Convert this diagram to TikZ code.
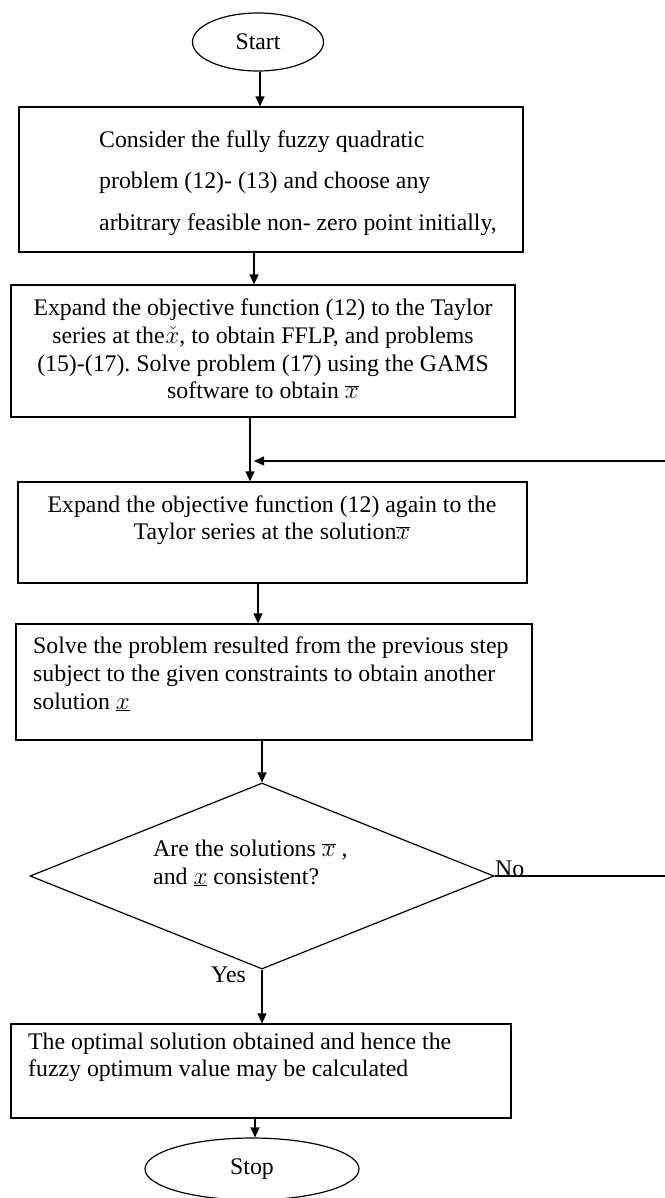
\documentclass[tikz,border=0pt]{standalone}
\usepackage{fontspec}
\setmainfont{Liberation Serif}
\usetikzlibrary{arrows.meta,shapes.geometric,calc}
\frenchspacing
\begin{document}
\begin{tikzpicture}[x=1pt,y=-1pt,
  box/.style={draw, line width=1.2pt, rectangle, inner sep=0pt},
  term/.style={draw, line width=1.2pt, ellipse, inner sep=0pt, font=\fontsize{23.8}{27.5}\selectfont},
  txt/.style={inner sep=0pt, font=\fontsize{23.8}{27.5}\selectfont},
  arr/.style={line width=1.3pt, -{Triangle[length=10pt,width=9pt]}},
  ln/.style={line width=1.3pt}]
\useasboundingbox (0,0) rectangle (664,1198);
\fill[white] (0,0) rectangle (664,1198);

% shapes
\node[term, minimum width=131pt, minimum height=58pt] (start) at (258,42) {Start};
\node[box, minimum width=504pt, minimum height=145pt] (b1) at (271,179.5) {};
\node[box, minimum width=504pt, minimum height=132pt] (b2) at (263,351) {};
\node[box, minimum width=509pt, minimum height=101pt] (b3) at (272.5,532.5) {};
\node[box, minimum width=516pt, minimum height=116pt] (b4) at (274,682) {};
\node[draw, line width=1.2pt, diamond, inner sep=0pt, minimum width=464pt, minimum height=186pt] (dec) at (262,876) {};
\node[box, minimum width=500pt, minimum height=94pt] (b5) at (261,1071) {};
\node[term, minimum width=214pt, minimum height=62pt] (stop) at (252,1169) {Stop};

% texts
\node[txt, anchor=base west] (t1a) at (99,148) {Consider the fully fuzzy quadratic};
\node[txt, anchor=base west] (t1b) at (99,189) {problem (12)- (13) and choose any};
\node[txt, anchor=base west] (t1c) at (99,230) {arbitrary feasible non- zero point initially,};

\node[txt, anchor=base] (t2a) at (263,315) {Expand the objective function (12) to the Taylor};
\node[txt, anchor=base] (t2b) at (263,343) {series at the\kern1pt$\check{x}$, to obtain FFLP, and problems};
\node[txt, anchor=base] (t2c) at (263,371) {(15)-(17). Solve problem (17) using the GAMS};
\node[txt, anchor=base] (t2d) at (263,398) {software to obtain $\overline{x}$};

\node[txt, anchor=base] (t3a) at (272,512) {Expand the objective function (12) again to the};
\node[txt, anchor=base] (t3b) at (272,539) {Taylor series at the solution$\overline{x}$};

\node[txt, anchor=base west] (t4a) at (33,653) {Solve the problem resulted from the previous step};
\node[txt, anchor=base west] (t4b) at (33,681) {subject to the given constraints to obtain another};
\node[txt, anchor=base west] (t4c) at (33,709) {solution $\underline{x}$};

\node[txt, anchor=base west] (tda) at (153,856) {Are the solutions $\overline{x}$ ,};
\node[txt, anchor=base west] (tdb) at (153,884) {and $\underline{x}$ consistent?};

\node[txt, anchor=base west] (no) at (495,876) {No};
\node[txt, anchor=base west] (yes) at (211,982) {Yes};

\node[txt, anchor=base west] (t5a) at (28,1049) {The optimal solution obtained and hence the};
\node[txt, anchor=base west] (t5b) at (28,1076) {fuzzy optimum value may be calculated};

% connector x positions
\coordinate (a0) at (260,0);
\coordinate (a1) at (254,0);
\coordinate (a2) at (250,0);
\coordinate (a3) at (258,0);
\coordinate (a6) at (255,0);
\coordinate (edge) at (668,0);
\coordinate (fbtip) at (254,461);

% connectors
\draw[arr] (start.south -| a0) -- (b1.north -| a0);
\draw[arr] (b1.south -| a1) -- (b2.north -| a1);
\draw[arr] (b2.south -| a2) -- (b3.north -| a2);
\draw[arr] (b3.south -| a3) -- (b4.north -| a3);
\draw[arr] (b4.south -| dec.north) -- (dec.north);
\draw[arr] (dec.south) -- (b5.north -| dec.south);
\draw[arr] (b5.south -| a6) -- (stop.north -| a6);
\draw[arr] (dec.east) -- (dec.east -| edge) -- (edge |- fbtip) -- (fbtip);
\end{tikzpicture}
\end{document}
